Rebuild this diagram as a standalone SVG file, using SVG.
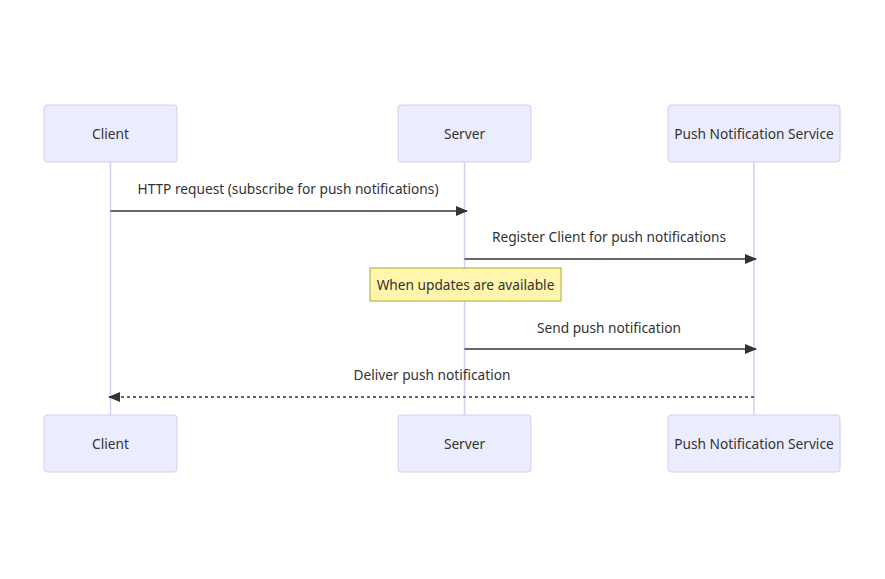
<svg xmlns="http://www.w3.org/2000/svg" width="885" height="579" viewBox="0 0 885 579">
<style>
.actor{fill:#ECECFF;stroke:#D6CDF2;stroke-width:1}
.lbl{font-family:"Noto Sans","DejaVu Sans",sans-serif;font-size:13.7px;fill:#333;text-anchor:middle;dominant-baseline:central}
.life{stroke:#D6CDF2;stroke-width:1.5}
.msg{stroke:#333;stroke-width:1.5;fill:none}
.note{fill:#FFF5AD;stroke:#AAAA33;stroke-width:1}
</style>
<defs>
<marker id="ah" viewBox="0 0 12 10" refX="11" refY="5" markerWidth="12" markerHeight="10" markerUnits="userSpaceOnUse" orient="auto">
<path d="M0,0 L12,5 L0,10 z" fill="#333"/>
</marker>
</defs>
<rect width="885" height="579" fill="#fff"/>
<g id="lifelines">
<line class="life" x1="110.5" y1="162" x2="110.5" y2="415"/>
<line class="life" x1="464.5" y1="162" x2="464.5" y2="415"/>
<line class="life" x1="754" y1="162" x2="754" y2="415"/>
</g>
<g id="client-top"><rect class="actor" x="44" y="105" width="133" height="57" rx="3"/><text class="lbl" x="110.5" y="133">Client</text></g>
<g id="server-top"><rect class="actor" x="398" y="105" width="133" height="57" rx="3"/><text class="lbl" x="464.5" y="133">Server</text></g>
<g id="push-top"><rect class="actor" x="668" y="105" width="172" height="57" rx="3"/><text class="lbl" x="754" y="133">Push Notification Service</text></g>
<g id="client-bottom"><rect class="actor" x="44" y="415" width="133" height="57" rx="3"/><text class="lbl" x="110.5" y="443">Client</text></g>
<g id="server-bottom"><rect class="actor" x="398" y="415" width="133" height="57" rx="3"/><text class="lbl" x="464.5" y="443">Server</text></g>
<g id="push-bottom"><rect class="actor" x="668" y="415" width="172" height="57" rx="3"/><text class="lbl" x="754" y="443">Push Notification Service</text></g>
<g id="note"><rect class="note" x="370" y="268" width="191" height="33"/><text class="lbl" x="465.5" y="284">When updates are available</text></g>
<g id="connectors">
<line class="msg" x1="110.5" y1="211" x2="467" y2="211" marker-end="url(#ah)"/>
<text class="lbl" x="288" y="188">HTTP request (subscribe for push notifications)</text>
<line class="msg" x1="464.5" y1="259" x2="756" y2="259" marker-end="url(#ah)"/>
<text class="lbl" x="609" y="236">Register Client for push notifications</text>
<line class="msg" x1="464.5" y1="349" x2="756" y2="349" marker-end="url(#ah)"/>
<text class="lbl" x="609" y="327">Send push notification</text>
<line class="msg" x1="754" y1="397" x2="109" y2="397" stroke-dasharray="3,3" marker-end="url(#ah)"/>
<text class="lbl" x="432" y="374">Deliver push notification</text>
</g>
</svg>
